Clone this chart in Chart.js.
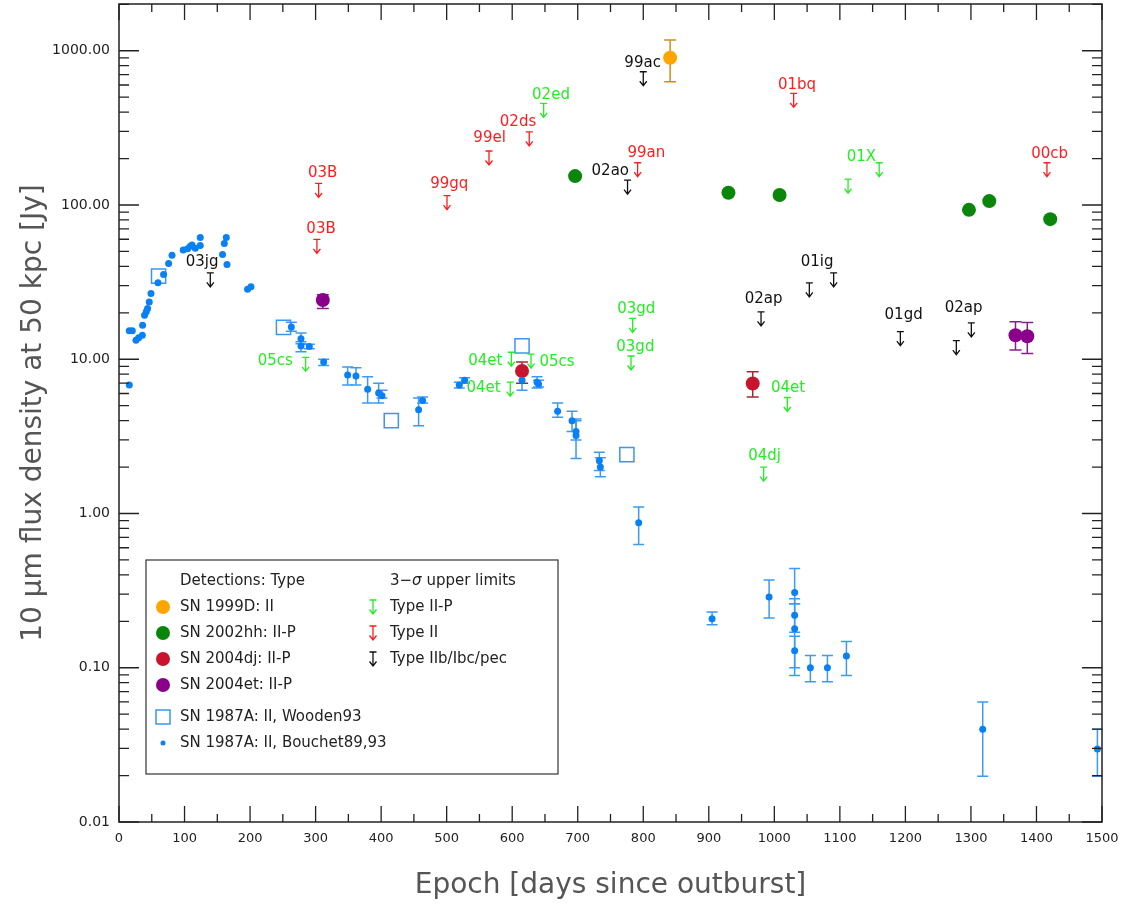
<!DOCTYPE html>
<html>
<head>
<meta charset="utf-8">
<title>10 micron flux of supernovae vs epoch</title>
<script src="https://cdn.jsdelivr.net/npm/chart.js@4/dist/chart.umd.min.js"></script>
<style>
  html, body { margin: 0; padding: 0; background: #ffffff; }
  #wrap { width: 1136px; height: 906px; }
</style>
</head>
<body>
<div id="wrap"><canvas id="snChart" width="1136" height="906"></canvas></div>
<script>
// ---- data (days since outburst, flux in Jy at 50 kpc) ----
const yTickValues = [0.01, 0.1, 1, 10, 100, 1000];

// SN 1987A, Bouchet89,93 (small dots); lo/hi = error bar ends, null = no bar
const bouchetDays = [15.7, 15.7, 20.3, 25.9, 30, 35.6, 36, 39, 41.6, 43.6, 46.2, 48.8, 59.5, 68, 75.7, 80.9,
  98, 104.7, 108.8, 111.4, 116.4, 124, 124, 158, 160.7, 163.7, 164.8, 196.2, 201.4,
  263, 277.7, 277.7, 290.4, 312.3, 348.9, 361.6, 379.4, 396.2, 401.3, 457.2, 463.3, 519.3, 527.4,
  615, 637.9, 640.3, 669.3, 691.3, 697.4, 697.4, 733, 734.5, 793,
  905, 992, 1031, 1031, 1031, 1031, 1055, 1081, 1110, 1318, 1493];
const bouchetFlux = [6.8, 15.3, 15.3, 13.3, 13.8, 14.3, 16.6, 19.3, 20.3, 21.3, 23.5, 26.7, 31.3, 35.5, 41.8, 47.3,
  51, 52, 54, 55, 52.5, 54.7, 61.6, 47.8, 56.4, 61.6, 41.2, 28.4, 29.5,
  16.2, 13.6, 12.2, 12.1, 9.6, 7.9, 7.8, 6.4, 6.05, 5.8, 4.7, 5.4, 6.8, 7.3,
  7.3, 7.1, 6.9, 4.6, 4.0, 3.4, 3.2, 2.2, 2.0, 0.87,
  0.208, 0.288, 0.307, 0.219, 0.179, 0.129, 0.1, 0.1, 0.119, 0.04, 0.0297];
const bouchetLo = [null, null, null, null, null, null, null, null, null, null, null, null, null, null, null, null,
  null, null, null, null, null, null, null, null, null, null, null, null, null,
  15.2, 12.6, 11.2, 11.7, 9.1, 6.8, 6.8, 5.2, 5.2, 5.6, 3.7, 5.2, 6.5, 7.0,
  6.3, 6.5, 6.6, 4.2, 3.4, 3.0, 2.27, 1.9, 1.73, 0.63,
  0.19, 0.21, 0.26, 0.17, 0.10, 0.089, 0.081, 0.081, 0.089, 0.0198, 0.0198];
const bouchetHi = [null, null, null, null, null, null, null, null, null, null, null, null, null, null, null, null,
  null, null, null, null, null, null, null, null, null, null, null, null, null,
  17.4, 14.8, 13.0, 12.5, 10.0, 8.9, 8.8, 7.7, 7.0, 6.3, 5.6, 5.7, 7.1, 7.6,
  8.4, 7.7, 7.3, 5.2, 4.6, 4.1, 4.0, 2.5, 2.3, 1.1,
  0.23, 0.37, 0.44, 0.28, 0.26, 0.16, 0.12, 0.12, 0.148, 0.06, 0.04];

// SN 1987A, Wooden93 (open squares)
const woodenDays = [60.4, 251, 415.5, 615, 775];
const woodenFlux = [34.6, 16.1, 4.0, 12.2, 2.41];

// detections
const sn1999dDays = [841];
const sn1999dFlux = [902];
const sn1999dLo = [629];
const sn1999dHi = [1173];

const sn2002hhDays = [696, 930, 1008, 1297, 1328, 1421];
const sn2002hhFlux = [154, 120, 116, 93, 106, 81];

const sn2004djDays = [615, 967];
const sn2004djFlux = [8.4, 6.97];
const sn2004djLo = [7.0, 5.7];
const sn2004djHi = [9.6, 8.3];

const sn2004etDays = [311, 1368, 1386];
const sn2004etFlux = [24.2, 14.3, 14.1];
const sn2004etLo = [21.3, 11.5, 10.9];
const sn2004etHi = [26.2, 17.5, 17.3];

// 3-sigma upper limits
const limitIIPDays = [284.8, 598.7, 597, 628.7, 648, 783.8, 781.3, 983.7, 1019.8, 1112.5, 1160];
const limitIIPFlux = [10.3, 11.1, 7.1, 10.8, 456, 18.4, 10.5, 2.0, 5.65, 147, 188];
const limitIIDays = [302, 304.6, 500.5, 564.6, 626, 791.4, 1029.5, 1416];
const limitIIFlux = [59.8, 138, 115, 224, 298, 188, 530, 188];
const limitOtherDays = [139.3, 776, 800, 979.7, 1053.4, 1090.5, 1192.3, 1277.7, 1300.6];
const limitOtherFlux = [36.3, 145, 731, 20.3, 31.3, 36.3, 15.1, 13.2, 17.2];

// names written next to the limits (centre of text, in data units)
const limitNames = ['05cs', '04et', '04et', '05cs', '02ed', '03gd', '03gd', '04dj', '04et', '01X',
  '03B', '03B', '99gq', '99el', '02ds', '99an', '01bq', '00cb',
  '03jg', '02ao', '99ac', '02ap', '01ig', '01gd', '02ap'];
const limitNameType = ['IIP', 'IIP', 'IIP', 'IIP', 'IIP', 'IIP', 'IIP', 'IIP', 'IIP', 'IIP',
  'II', 'II', 'II', 'II', 'II', 'II', 'II', 'II',
  'other', 'other', 'other', 'other', 'other', 'other', 'other'];
const limitNameDays = [238.5, 559, 556.4, 668.4, 659.2, 789.4, 787.9, 985.2, 1020.9, 1132.8,
  310.7, 308.3, 504, 565.5, 608.9, 804.7, 1034.6, 1420,
  126.7, 749.7, 799, 983.7, 1065.2, 1197.3, 1288.9];
const limitNameFlux = [9.72, 9.77, 6.47, 9.62, 516, 21, 11.9, 2.35, 6.47, 205,
  162, 69.5, 136, 270, 343, 216, 600, 214,
  42.8, 167, 829, 24.5, 42.8, 19.3, 21.3];

// ---- styling ----
const FONT = '"DejaVu Sans", "Liberation Sans", sans-serif';
const limitColors = { IIP: '#22ee22', II: '#ff1c1c', other: '#111111' };

function pts(days, flux) {
  return days.map((d, i) => ({ x: d, y: flux[i] }));
}

function drawLimitArrow(ctx, px, py, color) {
  ctx.strokeStyle = color;
  ctx.lineWidth = 1.3;
  ctx.beginPath();
  ctx.moveTo(px - 3.5, py); ctx.lineTo(px + 3.5, py);
  ctx.moveTo(px, py); ctx.lineTo(px, py + 14);
  ctx.moveTo(px - 3.5, py + 9.5); ctx.lineTo(px, py + 14); ctx.lineTo(px + 3.5, py + 9.5);
  ctx.stroke();
}

const errorBars = {
  id: 'errorBars',
  beforeDatasetsDraw(chart) {
    const { ctx } = chart;
    const x = chart.scales.x, y = chart.scales.y;
    ctx.save();
    chart.data.datasets.forEach(ds => {
      if (!ds.errLo) return;
      ctx.strokeStyle = ds.errColor;
      ctx.lineWidth = 1.5;
      const c = ds.capHalf;
      ds.data.forEach((p, i) => {
        const lo = ds.errLo[i], hi = ds.errHi[i];
        if (lo == null || hi == null) return;
        const px = x.getPixelForValue(p.x);
        const y1 = y.getPixelForValue(lo), y2 = y.getPixelForValue(hi);
        ctx.beginPath();
        ctx.moveTo(px, y1); ctx.lineTo(px, y2);
        ctx.moveTo(px - c, y1); ctx.lineTo(px + c, y1);
        ctx.moveTo(px - c, y2); ctx.lineTo(px + c, y2);
        ctx.stroke();
      });
    });
    ctx.restore();
  }
};

const upperLimits = {
  id: 'upperLimits',
  afterDatasetsDraw(chart) {
    const { ctx } = chart;
    const x = chart.scales.x, y = chart.scales.y;
    ctx.save();
    const groups = [
      [limitIIPDays, limitIIPFlux, limitColors.IIP],
      [limitIIDays, limitIIFlux, limitColors.II],
      [limitOtherDays, limitOtherFlux, limitColors.other]
    ];
    groups.forEach(([days, flux, col]) => {
      days.forEach((d, i) => drawLimitArrow(ctx, x.getPixelForValue(d), y.getPixelForValue(flux[i]), col));
    });
    ctx.font = '15px ' + FONT;
    ctx.textAlign = 'center';
    ctx.textBaseline = 'middle';
    limitNames.forEach((name, i) => {
      ctx.fillStyle = limitColors[limitNameType[i]];
      ctx.fillText(name, x.getPixelForValue(limitNameDays[i]), y.getPixelForValue(limitNameFlux[i]));
    });
    ctx.restore();
  }
};

// IDL-style box with inward ticks on all four sides, plus the y tick labels
const frameTicks = {
  id: 'frameTicks',
  afterDatasetsDraw(chart) {
    const { ctx, chartArea: a } = chart;
    const x = chart.scales.x, y = chart.scales.y;
    ctx.save();
    ctx.strokeStyle = '#222';
    ctx.lineWidth = 1.5;
    ctx.strokeRect(a.left, a.top, a.right - a.left, a.bottom - a.top);
    ctx.lineWidth = 1.3;
    ctx.beginPath();
    for (let d = 0; d <= 1500; d += 50) {
      const px = x.getPixelForValue(d);
      const len = d % 100 === 0 ? 16 : 8;
      ctx.moveTo(px, a.bottom); ctx.lineTo(px, a.bottom - len);
      ctx.moveTo(px, a.top); ctx.lineTo(px, a.top + len);
    }
    for (let e = -2; e <= 3; e++) {
      for (let m = 1; m <= 9; m++) {
        const v = m * Math.pow(10, e);
        if (v > y.max) continue;
        const py = y.getPixelForValue(v);
        const len = m === 1 ? 20 : 10;
        ctx.moveTo(a.left, py); ctx.lineTo(a.left + len, py);
        ctx.moveTo(a.right, py); ctx.lineTo(a.right - len, py);
      }
    }
    ctx.stroke();
    ctx.font = '14px ' + FONT;
    ctx.fillStyle = '#222';
    ctx.textAlign = 'right';
    ctx.textBaseline = 'middle';
    yTickValues.forEach(v => ctx.fillText(v.toFixed(2), a.left - 9, y.getPixelForValue(v)));
    ctx.restore();
  }
};

const boxLegend = {
  id: 'boxLegend',
  afterDraw(chart) {
    const { ctx } = chart;
    ctx.save();
    ctx.fillStyle = '#fff';
    ctx.fillRect(146, 560, 412, 214);
    ctx.strokeStyle = '#333';
    ctx.lineWidth = 1.2;
    ctx.strokeRect(146, 560, 412, 214);
    ctx.font = '15px ' + FONT;
    ctx.textBaseline = 'middle';
    ctx.textAlign = 'left';
    ctx.fillStyle = '#222';
    ctx.fillText('Detections: Type', 180, 581);
    const rows = [
      ['SN 1999D: II', '#ffa500', 607],
      ['SN 2002hh: II-P', '#0a870a', 633],
      ['SN 2004dj: II-P', '#c8142c', 659],
      ['SN 2004et: II-P', '#8b008b', 685]
    ];
    rows.forEach(([t, c, yy]) => {
      ctx.fillStyle = c;
      ctx.beginPath(); ctx.arc(163, yy, 7, 0, Math.PI * 2); ctx.fill();
      ctx.fillStyle = '#222';
      ctx.fillText(t, 180, yy);
    });
    ctx.strokeStyle = '#3a96f0';
    ctx.lineWidth = 1.5;
    ctx.strokeRect(156, 710, 14, 14);
    ctx.fillStyle = '#222';
    ctx.fillText('SN 1987A: II, Wooden93', 180, 717);
    ctx.fillStyle = '#0a80f5';
    ctx.beginPath(); ctx.arc(163, 743, 2.5, 0, Math.PI * 2); ctx.fill();
    ctx.fillStyle = '#222';
    ctx.fillText('SN 1987A: II, Bouchet89,93', 180, 743);

    // upper-limit column
    let tx = 390;
    ctx.fillText('3\u2212', tx, 581);
    tx += ctx.measureText('3\u2212').width;
    ctx.font = 'italic 15px ' + FONT;
    ctx.fillText('\u03c3', tx, 581);
    tx += ctx.measureText('\u03c3').width;
    ctx.font = '15px ' + FONT;
    ctx.fillText(' upper limits', tx, 581);
    const lrows = [['Type II-P', limitColors.IIP, 607], ['Type II', limitColors.II, 633], ['Type IIb/Ibc/pec', limitColors.other, 659]];
    lrows.forEach(([t, c, yy]) => {
      drawLimitArrow(ctx, 373, yy - 7, c);
      ctx.fillStyle = '#222';
      ctx.fillText(t, 390, yy);
    });
    ctx.restore();
  }
};

new Chart(document.getElementById('snChart'), {
  type: 'scatter',
  data: {
    datasets: [
      {
        label: 'SN 1987A: II, Bouchet89,93',
        data: pts(bouchetDays, bouchetFlux),
        errLo: bouchetLo, errHi: bouchetHi, errColor: '#3d9af2', capHalf: 5.5,
        pointRadius: 3.5, pointBackgroundColor: '#0a80f5', pointBorderWidth: 0,
        order: 0
      },
      {
        label: 'SN 1987A: II, Wooden93',
        data: pts(woodenDays, woodenFlux),
        pointStyle: 'rect', pointRadius: 10, pointBorderColor: '#3a96f0',
        pointBackgroundColor: 'rgba(255,255,255,0)', pointBorderWidth: 1.5,
        order: 1
      },
      {
        label: 'SN 1999D: II',
        data: pts(sn1999dDays, sn1999dFlux),
        errLo: sn1999dLo, errHi: sn1999dHi, errColor: '#d08c1e', capHalf: 6,
        pointRadius: 7, pointBackgroundColor: '#ffa500', pointBorderWidth: 0,
        order: 2
      },
      {
        label: 'SN 2002hh: II-P',
        data: pts(sn2002hhDays, sn2002hhFlux),
        pointRadius: 7, pointBackgroundColor: '#0a870a', pointBorderWidth: 0,
        order: 3
      },
      {
        label: 'SN 2004dj: II-P',
        data: pts(sn2004djDays, sn2004djFlux),
        errLo: sn2004djLo, errHi: sn2004djHi, errColor: '#a3283a', capHalf: 6,
        pointRadius: 7, pointBackgroundColor: '#c8142c', pointBorderWidth: 0,
        order: 4
      },
      {
        label: 'SN 2004et: II-P',
        data: pts(sn2004etDays, sn2004etFlux),
        errLo: sn2004etLo, errHi: sn2004etHi, errColor: '#86208a', capHalf: 6,
        pointRadius: 7, pointBackgroundColor: '#8b008b', pointBorderWidth: 0,
        order: 5
      }
    ]
  },
  options: {
    responsive: false,
    animation: false,
    events: [],
    layout: { autoPadding: false, padding: { left: 0, right: 34, top: 4, bottom: 0 } },
    plugins: { legend: { display: false }, tooltip: { enabled: false } },
    scales: {
      x: {
        type: 'linear', min: 0, max: 1500,
        grid: { display: false, drawTicks: false },
        border: { display: false },
        ticks: { stepSize: 100, padding: 9, color: '#222', maxRotation: 0, autoSkip: false,
                 font: { size: 13, family: FONT }, callback: v => String(v) },
        title: { display: true, text: 'Epoch [days since outburst]', color: '#555',
                 font: { size: 28, family: FONT }, padding: { top: 0, bottom: 3 } },
        afterFit(scale) {
          scale.height = 84;
          scale.paddingLeft = 0; scale.paddingRight = 0;
        }
      },
      y: {
        type: 'logarithmic', min: 0.01, max: 2010,
        grid: { display: false, drawTicks: false },
        border: { display: false },
        afterBuildTicks(scale) { scale.ticks = yTickValues.map(v => ({ value: v })); },
        ticks: { display: false },
        title: { display: true, text: '10 \u03bcm flux density at 50 kpc [Jy]', color: '#555',
                 font: { size: 28, family: FONT }, padding: { top: 17, bottom: 0 } },
        afterFit(scale) {
          scale.width = 119;
          scale.paddingTop = 0; scale.paddingBottom = 0;
        }
      }
    }
  },
  plugins: [errorBars, upperLimits, frameTicks, boxLegend]
});
</script>
</body>
</html>
